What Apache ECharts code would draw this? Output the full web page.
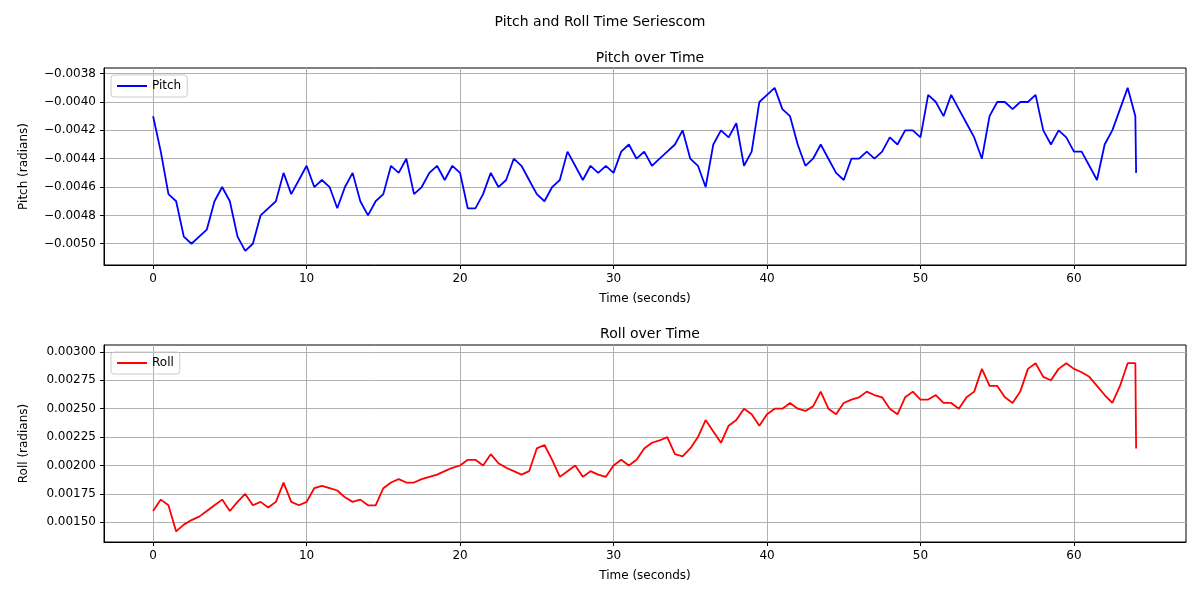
<!DOCTYPE html>
<html>
<head>
<meta charset="utf-8">
<script src="https://cdn.jsdelivr.net/npm/echarts@6/dist/echarts.min.js"></script>
<style>html,body{margin:0;padding:0;background:#fff}#chart{width:1200px;height:600px}</style>
</head>
<body>
<div id="chart"></div>
<script>
// time samples every 0.5 s, plus final drop sample
var times = [];
for (var i = 0; i <= 128; i++) times.push(i * 0.5);
times.push(64.05);

// pitch, units of 1e-4 rad
var pitchVals = [-41,-43.5,-46.5,-47,-49.5,-50,-49.5,-49,-47,-46,-47,-49.5,-50.5,-50,-48,-47.5,-47,-45,-46.5,-45.5,
  -44.5,-46,-45.5,-46,-47.5,-46,-45,-47,-48,-47,-46.5,-44.5,-45,-44,-46.5,-46,-45,-44.5,-45.5,-44.5,
  -45,-47.5,-47.5,-46.5,-45,-46,-45.5,-44,-44.5,-45.5,-46.5,-47,-46,-45.5,-43.5,-44.5,-45.5,-44.5,-45,-44.5,
  -45,-43.5,-43,-44,-43.5,-44.5,-44,-43.5,-43,-42,-44,-44.5,-46,-43,-42,-42.5,-41.5,-44.5,-43.5,-40,
  -39.5,-39,-40.5,-41,-43,-44.5,-44,-43,-44,-45,-45.5,-44,-44,-43.5,-44,-43.5,-42.5,-43,-42,-42,
  -42.5,-39.5,-40,-41,-39.5,-40.5,-41.5,-42.5,-44,-41,-40,-40,-40.5,-40,-40,-39.5,-42,-43,-42,-42.5,
  -43.5,-43.5,-44.5,-45.5,-43,-42,-40.5,-39,-41,-45];

// roll, units of 1e-5 rad
var rollVals = [160,170,165,142,148,152,155,160,165,170,160,168,175,165,168,163,168,185,168,165,
  168,180,182,180,178,172,168,170,165,165,180,185,188,185,185,188,190,192,195,198,
  200,205,205,200,210,202,198,195,192,195,215,218,205,190,195,200,190,195,192,190,
  200,205,200,205,215,220,222,225,210,208,215,225,240,230,220,235,240,250,245,235,
  245,250,250,255,250,248,252,265,250,245,255,258,260,265,262,260,250,245,260,265,
  258,258,262,255,255,250,260,265,285,270,270,260,255,265,285,290,278,275,285,290,
  285,282,278,270,262,255,270,290,290,215];

var xTicks = [0, 10, 20, 30, 40, 50, 60];
var pitchTicks = [-0.0050, -0.0048, -0.0046, -0.0044, -0.0042, -0.0040, -0.0038];
var rollTicks = [0.00150, 0.00175, 0.00200, 0.00225, 0.00250, 0.00275, 0.00300];

function pairs(vals, scale) {
  return times.map(function (t, k) { return [t, vals[k] * scale]; });
}

var font = 'DejaVu Sans';
var txt = { color: '#000', fontFamily: font, fontSize: 12 };
function xAxis(idx) {
  return {
    type: 'value', gridIndex: idx, min: -3.2, max: 67.3,
    name: 'Time (seconds)', nameLocation: 'middle', nameGap: 28,
    nameTextStyle: { color: '#000', fontFamily: font, fontSize: 12 },
    axisLine: { onZero: false, lineStyle: { color: '#000' } },
    axisTick: { show: true, customValues: xTicks, length: 4, lineStyle: { color: '#000' } },
    axisLabel: { customValues: xTicks, color: '#000', fontFamily: font, fontSize: 12 },
    splitLine: { show: true, lineStyle: { color: '#b0b0b0', width: 1 } }
  };
}
function yAxis(idx, min, max, ticks, dec, name) {
  return {
    type: 'value', gridIndex: idx, min: min, max: max,
    name: name, nameLocation: 'middle', nameGap: 74,
    nameTextStyle: { color: '#000', fontFamily: font, fontSize: 12 },
    axisLine: { show: true, onZero: false, lineStyle: { color: '#000' } },
    axisTick: { show: true, customValues: ticks, length: 4, lineStyle: { color: '#000' } },
    axisLabel: { customValues: ticks, color: '#000', fontFamily: font, fontSize: 12,
      formatter: function (v) { return v.toFixed(dec).replace('-', '\u2212'); } },
    splitLine: { show: true, lineStyle: { color: '#b0b0b0', width: 1 } }
  };
}

var chart = echarts.init(document.getElementById('chart'));
chart.setOption({
  animation: false,
  backgroundColor: '#fff',
  title: [
    { text: 'Pitch and Roll Time Seriescom', left: 'center', top: 10, textStyle: { fontFamily: font, fontSize: 14, fontWeight: 'normal', color: '#000' } },
    { text: 'Pitch over Time', left: 645, textAlign: 'center', top: 46, textStyle: { fontFamily: font, fontSize: 14, fontWeight: 'normal', color: '#000' } },
    { text: 'Roll over Time', left: 645, textAlign: 'center', top: 322, textStyle: { fontFamily: font, fontSize: 14, fontWeight: 'normal', color: '#000' } }
  ],
  legend: [
    { data: ['Pitch'], left: 111, top: 75, orient: 'vertical', itemWidth: 30, itemHeight: 2, icon: 'rect',
      textStyle: txt, borderColor: '#ccc', borderWidth: 1, borderRadius: 3, padding: [5, 6] },
    { data: ['Roll'], left: 111, top: 352, orient: 'vertical', itemWidth: 30, itemHeight: 2, icon: 'rect',
      textStyle: txt, borderColor: '#ccc', borderWidth: 1, borderRadius: 3, padding: [5, 6] }
  ],
  grid: [
    { left: 104, top: 68, width: 1082, height: 197, show: true, borderColor: '#000', borderWidth: 1 },
    { left: 104, top: 345, width: 1082, height: 197, show: true, borderColor: '#000', borderWidth: 1 }
  ],
  xAxis: [xAxis(0), xAxis(1)],
  yAxis: [
    yAxis(0, -0.00515, -0.00376, pitchTicks, 4, 'Pitch (radians)'),
    yAxis(1, 0.001327, 0.00306, rollTicks, 5, 'Roll (radians)')
  ],
  series: [
    { name: 'Pitch', type: 'line', xAxisIndex: 0, yAxisIndex: 0, showSymbol: false,
      data: pairs(pitchVals, 1e-4), color: '#0000ff', lineStyle: { width: 1.8 } },
    { name: 'Roll', type: 'line', xAxisIndex: 1, yAxisIndex: 1, showSymbol: false,
      data: pairs(rollVals, 1e-5), color: '#ff0000', lineStyle: { width: 1.8 } }
  ]
});
</script>
</body>
</html>
